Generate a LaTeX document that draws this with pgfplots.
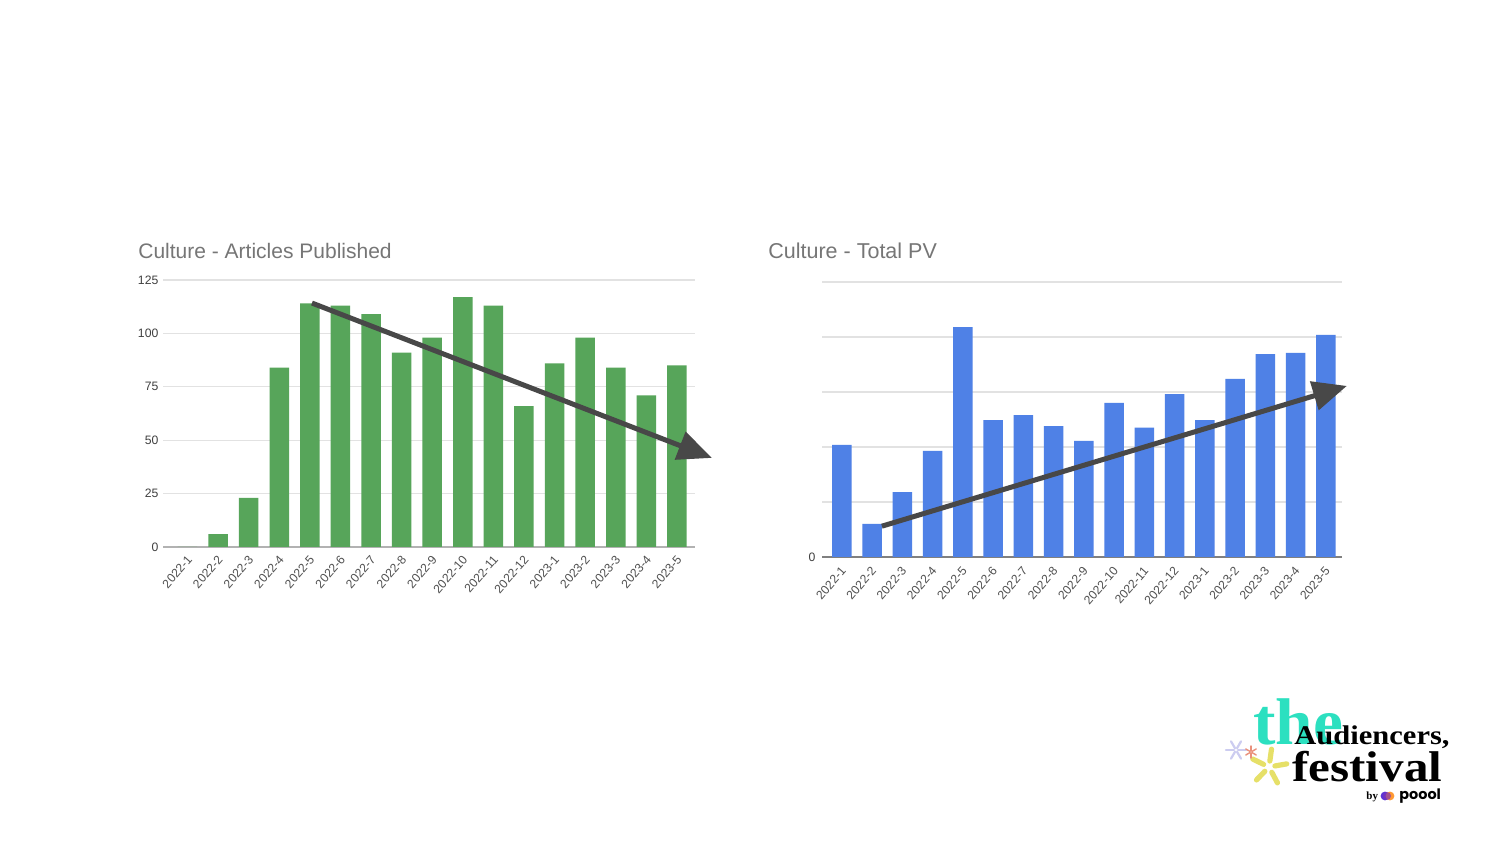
\documentclass[border=0pt]{standalone}
\usepackage{fontspec}
\setmainfont{Liberation Sans}
\newfontfamily\logoserif{Liberation Serif}
\newfontfamily\logosans{Poppins}
\usepackage{pgfplots}
\pgfplotsset{compat=1.18}
\usetikzlibrary{arrows.meta,calc}
\definecolor{barG}{HTML}{57A55A}
\definecolor{barB}{HTML}{4F81E6}
\definecolor{arrowc}{HTML}{484848}
\definecolor{titlec}{HTML}{767676}
\definecolor{tickc}{HTML}{505050}
\definecolor{gridc}{HTML}{E2E2E2}
\definecolor{teal}{HTML}{2CE0C0}
\pgfplotsset{culture/.style={
  scale only axis, clip=false, ybar, bar width=9.75pt, bar shift=0pt,
  axis x line=bottom, axis y line=left,
  x axis line style={-,draw=black!30,line width=0.8pt},
  y axis line style={draw=none},
  ymajorgrids, grid style={gridc,line width=0.6pt},
  tick style={draw=none},
  xtick={0,...,16},
  xticklabels={2022-1,2022-2,2022-3,2022-4,2022-5,2022-6,2022-7,2022-8,2022-9,2022-10,2022-11,2022-12,2023-1,2023-2,2023-3,2023-4,2023-5},
  xticklabel style={rotate=49,anchor=north east,font=\fontsize{6.1}{7}\selectfont,text=tickc,inner sep=1pt,yshift=0.44pt,xshift=-0.5pt},
  yticklabel style={font=\fontsize{6.1}{7}\selectfont,text=black!75,inner sep=1pt,xshift=1pt},
  /pgf/number format/assume math mode=true,
  ymin=0,
}}
\begin{document}
\begin{tikzpicture}[x=1pt,y=1pt]
\path[use as bounding box] (0,0) rectangle (750,422);
\fill[white] (0,0) rectangle (750,422);
% left chart
\begin{axis}[culture, at={(81.5pt,148.5pt)}, anchor=south west, width=266pt, height=133.5pt,
  xmin=-0.8, xmax=16.59, ymax=125, ytick={0,25,50,75,100,125}]
\addplot[fill=barG,draw=none] coordinates {(0,0)(1,6)(2,23)(3,84)(4,114)(5,113)(6,109)(7,91)(8,98)(9,117)(10,113)(11,66)(12,86)(13,98)(14,84)(15,71)(16,85)};
\addplot[sharp plot,arrowc,line width=2.5pt,-{Triangle[length=17pt,width=14.5pt]}] coordinates {(4.07,114.2)(17.14,41.7)};
\end{axis}
% right chart
\begin{axis}[culture, at={(411pt,143.5pt)}, anchor=south west, width=260pt, height=137.5pt,
  xmin=-0.66, xmax=16.53, ymax=5, ytick={0,1,2,3,4,5}, yticklabels={0,,,,,},
  x axis line style={-,draw=black!50,line width=0.8pt},
  xticklabel style={yshift=-0.14pt,xshift=-0.72pt},
  yticklabel style={xshift=-1pt}]
\addplot[fill=barB,draw=none] coordinates {(0,2.04)(1,0.60)(2,1.18)(3,1.93)(4,4.18)(5,2.49)(6,2.58)(7,2.38)(8,2.11)(9,2.80)(10,2.35)(11,2.96)(12,2.49)(13,3.24)(14,3.69)(15,3.71)(16,4.04)};
\addplot[sharp plot,arrowc,line width=2.5pt,-{Triangle[length=17pt,width=14.5pt]}] coordinates {(1.32,0.56)(16.69,3.11)};
\end{axis}
% titles
\node[anchor=base west,inner sep=0,text=titlec,font=\fontsize{10.5}{12}\selectfont] at (69,292.5) {Culture - Articles Published};
\node[anchor=base west,inner sep=0,text=titlec,font=\fontsize{10.75}{12}\selectfont] at (384,292.5) {Culture - Total PV};
% logo
\node[anchor=base west,inner sep=0,text=teal,xscale=1.02,font=\logoserif\bfseries\fontsize{33}{36}\selectfont] at (626.5,49.5) {the};
\node[anchor=base west,inner sep=0,text=black,xscale=1.13,font=\logoserif\bfseries\fontsize{13.5}{14}\selectfont] at (647,49.5) {Audiencers,};
\node[anchor=base west,inner sep=0,text=black,xscale=1.14,font=\logoserif\bfseries\fontsize{21.5}{22}\selectfont] at (646,31) {festival};
\node[anchor=base west,inner sep=0,text=black,font=\logoserif\bfseries\fontsize{5.5}{6}\selectfont] at (683,22) {by};
\node[anchor=base west,inner sep=0,text=black,font=\logosans\bfseries\fontsize{7.2}{8}\selectfont] at (699.5,22) {poool};
\fill[blue!60!violet!80] (692.5,24) circle (2.2);
\fill[orange!80] (695,24) circle (2.2);
\fill[violet!70!blue!80,opacity=.7] (693.5,24) circle (2);
% flowers
\foreach \a in {10,82,154,226,298}{
  \draw[line width=2.6pt,line cap=round,yellow!60!olive!55!white] ($(634.5,38.5)+(\a:3)$) -- ($(634.5,38.5)+(\a:9)$);
}
\foreach \a in {0,60,...,300}{
  \draw[line width=1.1pt,line cap=round,black!30!blue!20!white] ($(618,47)+(\a:1)$) -- ($(618,47)+(\a:5)$);
}
\foreach \a in {30,90,...,330}{
  \draw[line width=.7pt,line cap=round,red!45!brown!60!white] ($(625.5,46)+(\a:.5)$) -- ($(625.5,46)+(\a:3)$);
}
\end{tikzpicture}
\end{document}
